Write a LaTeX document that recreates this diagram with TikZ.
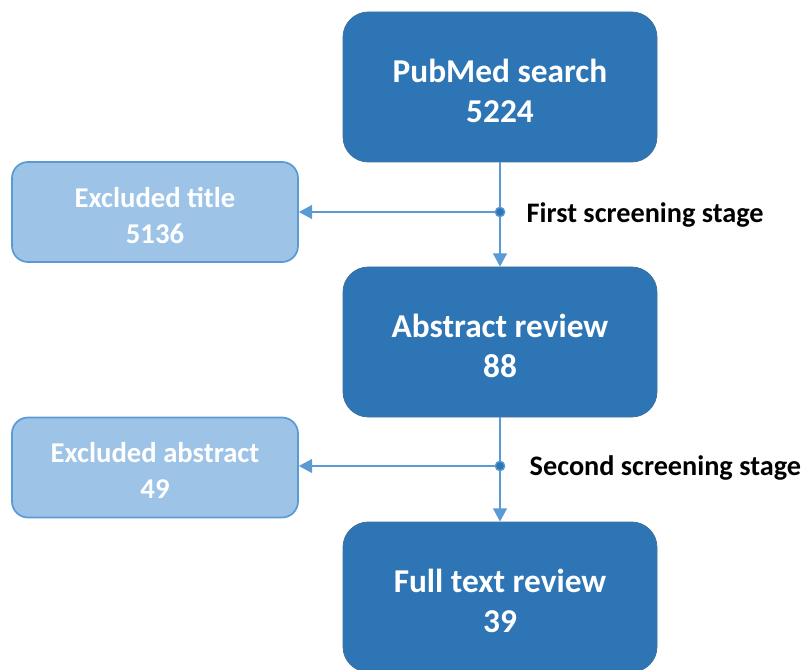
\documentclass[tikz,border=0pt]{standalone}
\usepackage{fontspec}
\setmainfont{Carlito}
\usetikzlibrary{positioning, arrows.meta}
\definecolor{stageblue}{RGB}{46, 117, 182}
\definecolor{stageedge}{RGB}{65, 113, 156}
\definecolor{exclblue}{RGB}{157, 195, 230}
\definecolor{lineblue}{RGB}{91, 155, 213}

\begin{document}
\begin{tikzpicture}[x=0.75pt, y=-0.75pt,
                stage/.style={draw=stageedge, line width=0.6pt, rounded corners=19pt,
                  fill=stageblue, text=white, align=center,
                  minimum width=235.5pt, minimum height=112.5pt,
                  font=\fontsize{25}{30.5}\selectfont\bfseries,
                  execute at begin node={\rule{0pt}{54pt}}},
                excl/.style={draw=lineblue, line width=1.3pt, rounded corners=12pt,
                  fill=exclblue, text=white, align=center,
                  minimum width=214.5pt, minimum height=75pt,
                  font=\fontsize{21.5}{27}\selectfont\bfseries,
                  execute at begin node={\rule{0pt}{47pt}}},
                flow/.style={draw=lineblue, line width=1.1pt,
                  -{Triangle[length=10pt, width=10.5pt]}},
                junct/.style={circle, fill=stageblue, draw=lineblue, line width=1pt,
                  inner sep=0pt, minimum size=7pt},
                tag/.style={anchor=west, font=\fontsize{21.2}{25}\selectfont\bfseries}
            ]

            \useasboundingbox (0, 0) rectangle (807, 670);

            \node[stage] (pubmed) at (500, 87) {PubMed search\\5224};
            \node[stage] (abstr) at (500, 342) {Abstract review\\88};
            \node[stage] (fulltext) at (500, 597) {Full text review\\39};

            \node[excl] (exctitle) at (155, 212) {Excluded title\\5136};
            \node[excl] (excabs) at (155, 467.5) {Excluded abstract\\49};

            % screening stages
            \draw[flow] (pubmed) -- (abstr);
            \draw[flow] (abstr) -- (fulltext);

            \node[junct] (first) at (500, 212) {};
            \node[junct] (second) at (500, 466) {};

            \draw[flow] (first) -- (first -| exctitle.east);
            \draw[flow] (second) -- (second -| excabs.east);

            \node[tag] at (522, 215) {First screening stage};
            \node[tag] at (525, 468) {Second screening stage};

\end{tikzpicture}
\end{document}
